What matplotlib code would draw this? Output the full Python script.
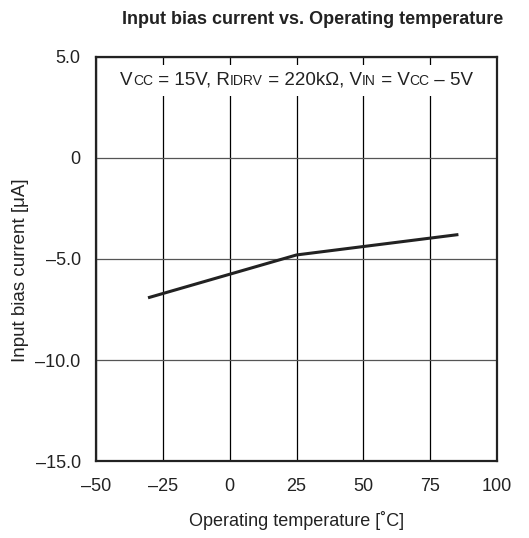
import matplotlib.pyplot as plt
from matplotlib.offsetbox import TextArea, HPacker, AnchoredOffsetbox

plt.rcParams['font.family'] = ['Liberation Sans', 'DejaVu Sans']

temps = [-30, 25, 85]
bias_current = [-6.9, -4.8, -3.8]

x_ticks = [-50, -25, 0, 25, 50, 75, 100]
x_labels = ['–50', '–25', '0', '25', '50', '75', '100']
y_ticks = [5, 0, -5, -10, -15]
y_labels = ['5.0', '0', '–5.0', '–10.0', '–15.0']

fig = plt.figure(figsize=(5.29, 5.38), dpi=100)
ax = fig.add_axes([0.1815, 0.1431, 0.758, 0.751])

ax.plot(temps, bias_current, color='#222222', linewidth=2.2, zorder=3)

ax.set_xlim(-50, 100)
ax.set_ylim(-15, 5)
ax.set_xticks(x_ticks)
ax.set_xticklabels(x_labels)
ax.set_yticks(y_ticks)
ax.set_yticklabels(y_labels)
ax.tick_params(length=0, labelsize=13, colors='#222222')
ax.tick_params(axis='x', pad=12)
ax.tick_params(axis='y', pad=11)
ax.xaxis.grid(True, color='black', linewidth=0.9)
ax.yaxis.grid(True, color='#555555', linewidth=0.9)
for s in ax.spines.values():
    s.set_linewidth(1.6)
    s.set_color('#222222')

ax.set_xlabel('Operating temperature [˚C]', fontsize=13, labelpad=12, color='#222222')
ax.set_ylabel('Input bias current [μA]', fontsize=13.5, color='#222222')
ax.yaxis.set_label_coords(-0.168, 0.473)
fig.text(0.591, 0.963, 'Input bias current vs. Operating temperature',
         ha='center', va='center', fontsize=13, fontweight='bold', color='#222222')

# condition note, with the small-caps style suffixes
parts = [('V', 13.5), ('CC', 10), (' = 15V, R', 13.5), ('IDRV', 10), (' = 220kΩ, V', 13.5),
         ('IN', 10), (' = V', 13.5), ('CC', 10), (' – 5V', 13.5)]
areas = [TextArea(t, textprops=dict(fontsize=fs, color='#222222')) for t, fs in parts]
box = HPacker(children=areas, align='baseline', pad=0, sep=0)
anchored = AnchoredOffsetbox(loc='center', child=box, pad=0.5, frameon=True,
                             bbox_to_anchor=(0.501, 0.942), bbox_transform=ax.transAxes,
                             borderpad=0)
anchored.patch.set_facecolor('white')
anchored.patch.set_edgecolor('none')
anchored.set_zorder(4)
ax.add_artist(anchored)

fig.savefig('out.png', dpi=100)
